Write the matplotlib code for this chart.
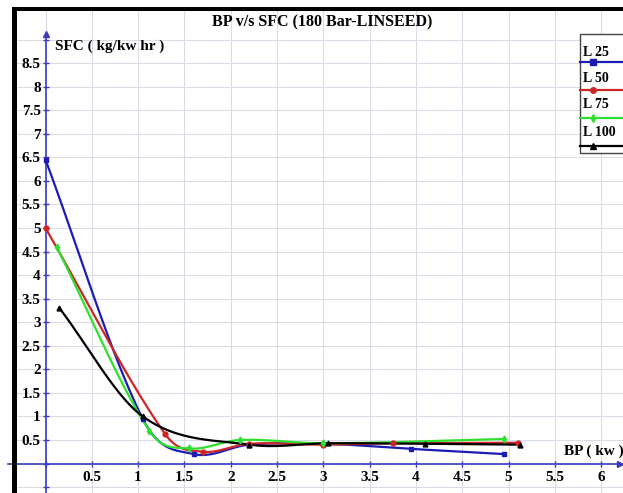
import numpy as np
import matplotlib
matplotlib.use("Agg")
import matplotlib.pyplot as plt
from matplotlib.patches import Rectangle
from matplotlib.lines import Line2D

# BP (kw) vs SFC (kg/kw hr) for each load.
bp_l25 = [0.0, 1.05, 1.6, 2.2, 3.0, 3.95, 4.95]
sfc_l25 = [6.45, 0.95, 0.2, 0.4, 0.42, 0.31, 0.2]

bp_l50 = [0.0, 1.29, 1.7, 2.2, 3.0, 3.75, 5.1]
sfc_l50 = [5.0, 0.63, 0.25, 0.42, 0.4, 0.43, 0.44]

bp_l75 = [0.12, 1.12, 1.55, 2.1, 3.0, 4.95]
sfc_l75 = [4.6, 0.7, 0.32, 0.5, 0.43, 0.52]

bp_l100 = [0.15, 1.05, 2.2, 3.05, 4.1, 5.12]
sfc_l100 = [3.3, 1.0, 0.4, 0.43, 0.42, 0.4]

labels = ["L 25", "L 50", "L 75", "L 100"]
colors = ["#1c1cb4", "#cc2626", "#2ee02e", "#000000"]
markers = ["s", "o", "d", "^"]

W, H = 623, 493
SERIF = ["Liberation Serif", "DejaVu Serif"]


def smooth(x, y, n=30):
    # Catmull-Rom style smoothed line through the points (like a spreadsheet "smoothed line").
    x = np.asarray(x, float)
    y = np.asarray(y, float)
    m = np.zeros_like(y)
    m[0] = (y[1] - y[0]) / (x[1] - x[0])
    m[-1] = (y[-1] - y[-2]) / (x[-1] - x[-2])
    m[1:-1] = (y[2:] - y[:-2]) / (x[2:] - x[:-2])
    xs, ys = [], []
    t = np.linspace(0, 1, n)
    for i in range(len(x) - 1):
        h = x[i + 1] - x[i]
        h00 = 2 * t**3 - 3 * t**2 + 1
        h10 = t**3 - 2 * t**2 + t
        h01 = -2 * t**3 + 3 * t**2
        h11 = t**3 - t**2
        xs.append(x[i] + t * h)
        ys.append(h00 * y[i] + h10 * h * m[i] + h01 * y[i + 1] + h11 * h * m[i + 1])
    return np.concatenate(xs), np.concatenate(ys)


def fx(px):
    return px / W


def fy(py):
    return 1 - py / H


fig = plt.figure(figsize=(W / 100, H / 100), dpi=100)
ax = fig.add_axes([fx(17), 0, 1 - fx(17), 1 - 11 / H])

# pixel -> data mapping of the original: x0 at 45.5 px, 92.6 px/unit; y0 at 463.5 px, 47.1 px/unit
ax.set_xlim((17 - 45.5) / 92.6, (623 - 45.5) / 92.6)
ax.set_ylim((463.5 - 493) / 47.1, (463.5 - 11) / 47.1)

axis_blue = "#3a3ac0"
for s in ["top", "right"]:
    ax.spines[s].set_visible(False)
ax.spines["left"].set_position(("data", 0))
ax.spines["bottom"].set_position(("data", 0))
for s in ["left", "bottom"]:
    ax.spines[s].set_color(axis_blue)
    ax.spines[s].set_linewidth(1.2)
ax.spines["left"].set_bounds(-0.7, 9.1)
ax.spines["bottom"].set_bounds(-0.4, 6.2)

xt = np.arange(0, 6.01, 0.5)
yt = np.arange(-0.5, 9.01, 0.5)
ax.set_xticks(xt)
ax.set_yticks(yt)
ax.set_xticklabels(["" if v <= 0 else f"{v:g}" for v in xt])
ax.set_yticklabels(["" if (v <= 0 or v > 8.6) else f"{v:g}" for v in yt])
ax.tick_params(axis="both", colors=axis_blue, direction="inout", length=5, width=1)
ax.tick_params(axis="y", pad=1)
ax.tick_params(axis="x", pad=3)
for lab in ax.get_xticklabels() + ax.get_yticklabels():
    lab.set_color("black")
    lab.set_fontfamily(SERIF)
    lab.set_fontweight("bold")
    lab.set_fontsize(11)

ax.grid(True, color="#dcdce8", linewidth=0.8)
ax.set_axisbelow(True)

# axis arrow heads
ax.plot([0], [9.12], marker="^", color=axis_blue, markersize=5, clip_on=False, zorder=5)
ax.plot([6.2], [0], marker=">", color=axis_blue, markersize=5, clip_on=False, zorder=5)

series = [(bp_l25, sfc_l25), (bp_l50, sfc_l50), (bp_l75, sfc_l75), (bp_l100, sfc_l100)]
for (bx, sy), c, mk in zip(series, colors, markers):
    sx, ss = smooth(bx, sy)
    ax.plot(sx, ss, color=c, linewidth=1.6, zorder=3)
    ax.plot(bx, sy, linestyle="none", marker=mk, color=c, markersize=3.5, zorder=4)

ax.text(0.1, 8.85, "SFC ( kg/kw hr )", fontfamily=SERIF, fontweight="bold", fontsize=11,
        va="center", ha="left")
ax.text(5.6, 0.27, "BP ( kw )", fontfamily=SERIF, fontweight="bold", fontsize=11,
        va="center", ha="left")

fig.text(fx(322), fy(22), "BP v/s SFC (180 Bar-LINSEED)", fontfamily=SERIF,
         fontweight="bold", fontsize=11.5, ha="center", va="center")

# black frame (top and left edges)
fig.add_artist(Rectangle((fx(12), fy(11)), 1, 4 / H, transform=fig.transFigure,
                         facecolor="black", edgecolor="none"))
fig.add_artist(Rectangle((fx(12), 0), 5 / W, fy(7), transform=fig.transFigure,
                         facecolor="black", edgecolor="none"))

# legend box
fig.add_artist(Rectangle((fx(580), fy(153)), 0.2, (153 - 34) / H, transform=fig.transFigure,
                         facecolor="white", edgecolor="#444444", linewidth=1, zorder=6))
text_y = [52, 78, 105, 133]
line_y = [62, 90, 118, 146]
for lab, c, mk, ty, ly in zip(labels, colors, markers, text_y, line_y):
    fig.text(fx(583), fy(ty), lab, fontfamily=SERIF, fontweight="bold", fontsize=10,
             ha="left", va="center", zorder=7)
    fig.add_artist(Line2D([fx(580), fx(623)], [fy(ly), fy(ly)], transform=fig.transFigure,
                          color=c, linewidth=1.6, zorder=7))
    fig.add_artist(Line2D([fx(593)], [fy(ly)], transform=fig.transFigure, color=c,
                          marker=mk, markersize=4, linestyle="none", zorder=8))

fig.savefig("out.png", dpi=100)
